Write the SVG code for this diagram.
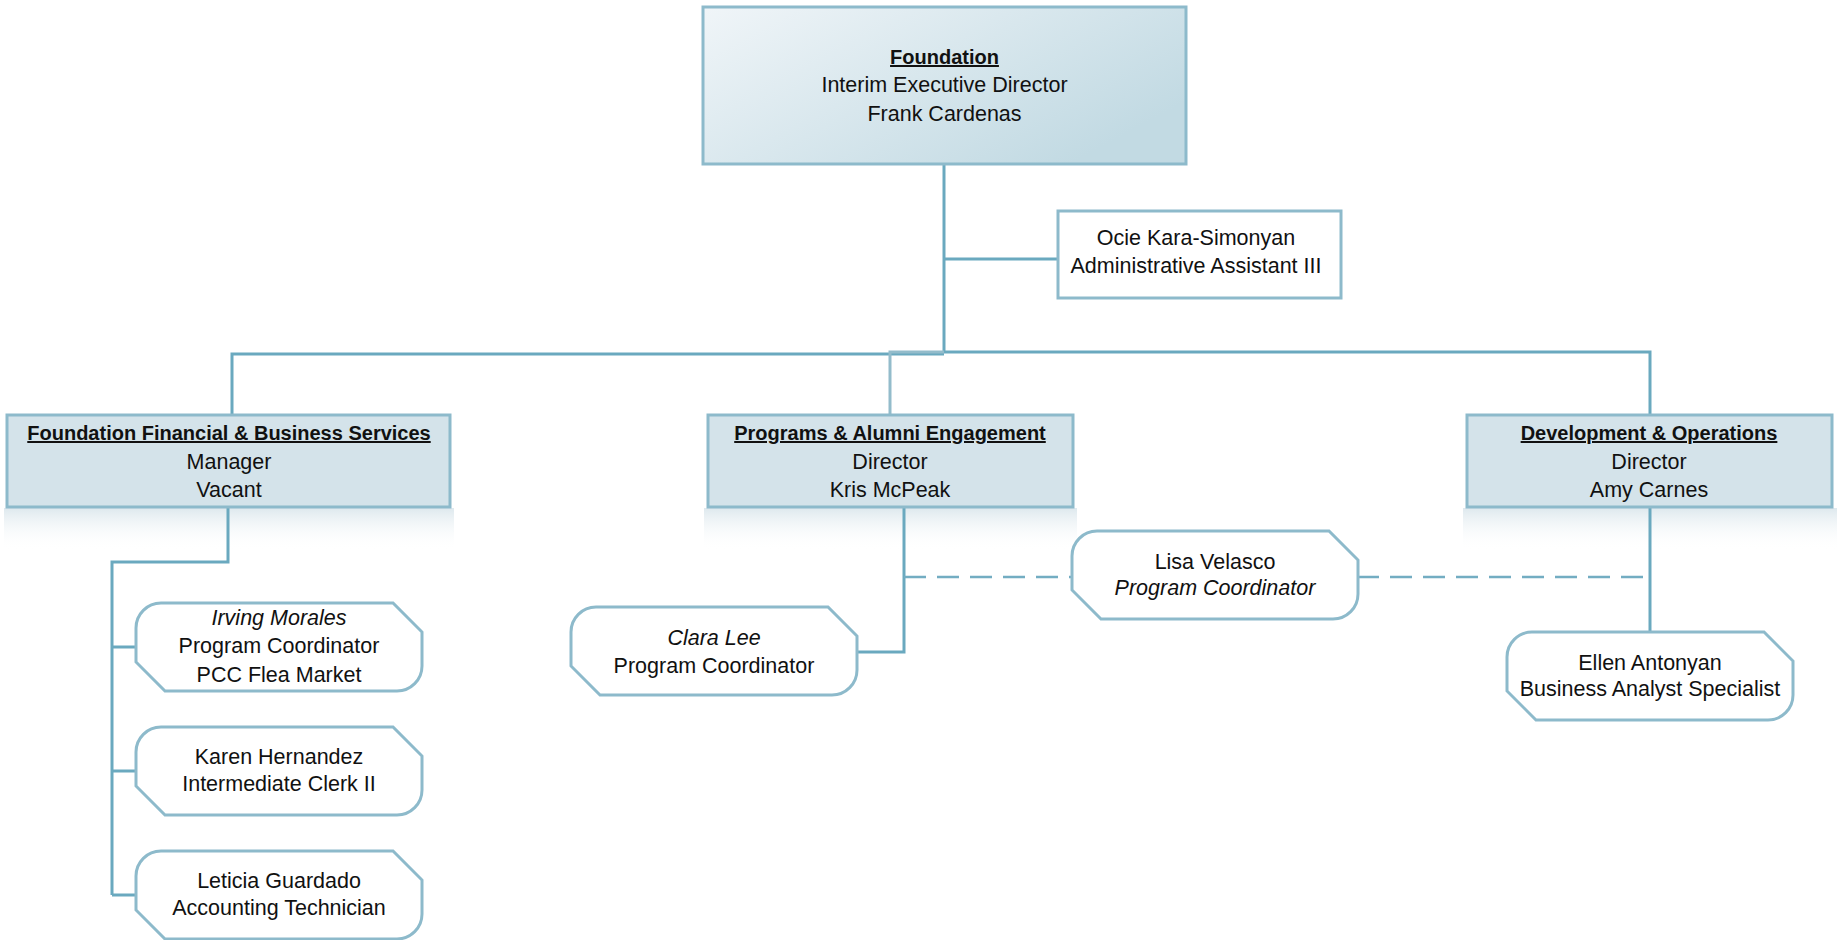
<svg xmlns="http://www.w3.org/2000/svg" width="1837" height="940" viewBox="0 0 1837 940">
<style>
  text { font-family: "Liberation Sans", Arial, sans-serif; fill: #111; text-anchor: middle; }
  .t { font-size: 21.5px; }
  .h { font-size: 20px; font-weight: bold; text-decoration: underline; }
  .i { font-style: italic; }
  .box2 { fill: #d4e3ea; stroke: #8dbacb; stroke-width: 3; }
  .pill { fill: #ffffff; stroke: #8dbacb; stroke-width: 3; }
  .ln { fill: none; stroke: #6aa9bf; stroke-width: 3; }
  .dash { fill: none; stroke: #73adc2; stroke-width: 2.5; stroke-dasharray: 22 11; }
</style>
<defs>
  <linearGradient id="topg" x1="0" y1="0" x2="1" y2="0.6">
    <stop offset="0" stop-color="#f0f5f8"/>
    <stop offset="1" stop-color="#c2dae3"/>
  </linearGradient>
  <linearGradient id="shade" x1="0" y1="0" x2="0" y2="1">
    <stop offset="0" stop-color="#d3e1e8" stop-opacity="0.75"/>
    <stop offset="1" stop-color="#ffffff" stop-opacity="0"/>
  </linearGradient>
  <path id="pill" d="M25,0 H257 L286,29 V63 A25,25 0 0 1 261,88 H29 L0,59 V25 A25,25 0 0 1 25,0 Z"/>
</defs>
<rect width="1837" height="940" fill="#ffffff"/>

<g id="shadows">
  <rect x="4" y="508" width="450" height="42" fill="url(#shade)"/>
  <rect x="704" y="508" width="373" height="42" fill="url(#shade)"/>
  <rect x="1463" y="508" width="374" height="42" fill="url(#shade)"/>
</g>

<g id="connectors">
  <path class="ln" d="M944,164 V353"/>
  <path class="ln" d="M944,259 H1058"/>
  <path class="ln" d="M232,415 V354 H944"/>
  <path class="ln" d="M944,352 H1650 V415"/>
  <path class="ln" d="M890,415 V352 H944" style="stroke:#93bccb"/>
  <path class="ln" d="M228,507 V562 H112 V895"/>
  <path class="ln" d="M112,647 H136 M112,771 H136 M112,895 H136"/>
  <path class="ln" d="M904,507 V652 H857"/>
  <path class="ln" d="M1650,507 V632"/>
  <path class="dash" d="M904,577 H1072 M1357,577 H1650"/>
</g>

<g id="foundation">
  <rect x="703" y="7" width="483" height="157" fill="url(#topg)" stroke="#8dbacb" stroke-width="3"/>
  <text class="h" x="944.5" y="64">Foundation</text>
  <text class="t" x="944.5" y="92">Interim Executive Director</text>
  <text class="t" x="944.5" y="121">Frank Cardenas</text>
</g>

<g id="admin">
  <rect x="1058" y="211" width="283" height="87" fill="#ffffff" stroke="#8dbacb" stroke-width="3"/>
  <text class="t" x="1196" y="245">Ocie Kara-Simonyan</text>
  <text class="t" x="1196" y="273">Administrative Assistant III</text>
</g>

<g id="ffbs">
  <rect class="box2" x="7" y="415" width="443" height="92"/>
  <text class="h" x="229" y="440">Foundation Financial &amp; Business Services</text>
  <text class="t" x="229" y="469">Manager</text>
  <text class="t" x="229" y="497">Vacant</text>
</g>

<g id="pae">
  <rect class="box2" x="708" y="415" width="365" height="92"/>
  <text class="h" x="890" y="440">Programs &amp; Alumni Engagement</text>
  <text class="t" x="890" y="469">Director</text>
  <text class="t" x="890" y="497">Kris McPeak</text>
</g>

<g id="devops">
  <rect class="box2" x="1467" y="415" width="365" height="92"/>
  <text class="h" x="1649" y="440">Development &amp; Operations</text>
  <text class="t" x="1649" y="469">Director</text>
  <text class="t" x="1649" y="497">Amy Carnes</text>
</g>

<g id="irving" transform="translate(136,603)">
  <use href="#pill" class="pill"/>
  <text class="t i" x="143" y="22">Irving Morales</text>
  <text class="t" x="143" y="50">Program Coordinator</text>
  <text class="t" x="143" y="79">PCC Flea Market</text>
</g>

<g id="karen" transform="translate(136,727)">
  <use href="#pill" class="pill"/>
  <text class="t" x="143" y="37">Karen Hernandez</text>
  <text class="t" x="143" y="64">Intermediate Clerk II</text>
</g>

<g id="leticia" transform="translate(136,851)">
  <use href="#pill" class="pill"/>
  <text class="t" x="143" y="37">Leticia Guardado</text>
  <text class="t" x="143" y="64">Accounting Technician</text>
</g>

<g id="clara" transform="translate(571,607)">
  <use href="#pill" class="pill"/>
  <text class="t i" x="143" y="38">Clara Lee</text>
  <text class="t" x="143" y="66">Program Coordinator</text>
</g>

<g id="lisa" transform="translate(1072,531)">
  <use href="#pill" class="pill"/>
  <text class="t" x="143" y="38">Lisa Velasco</text>
  <text class="t i" x="143" y="64">Program Coordinator</text>
</g>

<g id="ellen" transform="translate(1507,632)">
  <use href="#pill" class="pill"/>
  <text class="t" x="143" y="38">Ellen Antonyan</text>
  <text class="t" x="143" y="64">Business Analyst Specialist</text>
</g>
</svg>
